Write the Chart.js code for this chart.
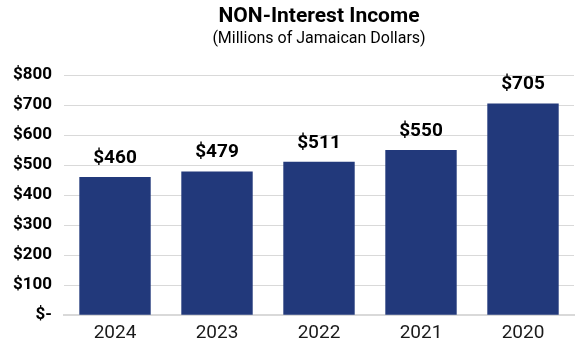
<!DOCTYPE html>
<html>
<head>
<meta charset="utf-8">
<script src="https://cdn.jsdelivr.net/npm/chart.js@4"></script>
<style>
    body { margin: 0; background: #fff; }
    #wrap { width: 581px; height: 345px; }
</style>
</head>
<body>
<div id="wrap"><canvas id="grIncome" width="581" height="345"></canvas></div>
<script>
const years = ['2024', '2023', '2022', '2021', '2020'];
const income = [460, 479, 511, 550, 705];
const yTicks = [0, 100, 200, 300, 400, 500, 600, 700, 800];

const titulo = 'NON-Interest Income';
const subtitulo = '(Millions of Jamaican Dollars)';

const navy = '#22397b';
const fontName = 'Roboto, "Liberation Sans", sans-serif';

/* titulo centrado sobre el area del grafico */
const tituloPlugin = {
    id: 'tituloPlugin',
    afterDraw(chart) {
        const { ctx, chartArea } = chart;
        const cx = (chartArea.left + chartArea.right) / 2;
        ctx.save();
        ctx.fillStyle = '#000';
        ctx.textAlign = 'center';
        ctx.textBaseline = 'middle';
        ctx.font = `bold 21px ${fontName}`;
        ctx.fillText(titulo, cx, 17);
        ctx.font = `16px ${fontName}`;
        ctx.fillText(subtitulo, cx, 39);
        ctx.restore();
    }
};

/* etiquetas de valor arriba de cada barra */
const valorPlugin = {
    id: 'valorPlugin',
    afterDatasetsDraw(chart) {
        const { ctx, data } = chart;
        const meta = chart.getDatasetMeta(0);
        ctx.save();
        ctx.fillStyle = '#000';
        ctx.textAlign = 'center';
        ctx.textBaseline = 'middle';
        ctx.font = `bold 19px ${fontName}`;
        meta.data.forEach((barra, i) => {
            ctx.fillText('$' + data.datasets[0].data[i], barra.x, barra.y - 19);
        });
        ctx.restore();
    }
};

const ctx = document.getElementById('grIncome').getContext('2d');

new Chart(ctx, {
    type: 'bar',
    data: {
        labels: years,
        datasets: [{
            data: income,
            backgroundColor: navy,
            borderWidth: 0,
            categoryPercentage: 1,
            barPercentage: 0.7
        }]
    },
    options: {
        responsive: false,
        animation: false,
        layout: {
            padding: { top: 75, right: 7, left: 1, bottom: -7 }
        },
        plugins: {
            legend: { display: false },
            title: { display: false },
            tooltip: { enabled: false }
        },
        scales: {
            x: {
                grid: { display: false, drawTicks: false },
                border: { color: '#d9d9d9', width: 2 },
                ticks: {
                    color: '#1a1a1a',
                    font: { family: fontName, size: 19 },
                    padding: 7
                }
            },
            y: {
                min: 0,
                max: 800,
                afterBuildTicks(axis) {
                    axis.ticks = yTicks.map(v => ({ value: v }));
                },
                grid: { color: '#d9d9d9', drawTicks: false },
                border: { display: false },
                ticks: {
                    color: '#000',
                    font: { family: fontName, size: 17, weight: 'bold' },
                    padding: 12,
                    callback: v => v === 0 ? '$-' : '$' + v
                }
            }
        }
    },
    plugins: [tituloPlugin, valorPlugin]
});
</script>
</body>
</html>
